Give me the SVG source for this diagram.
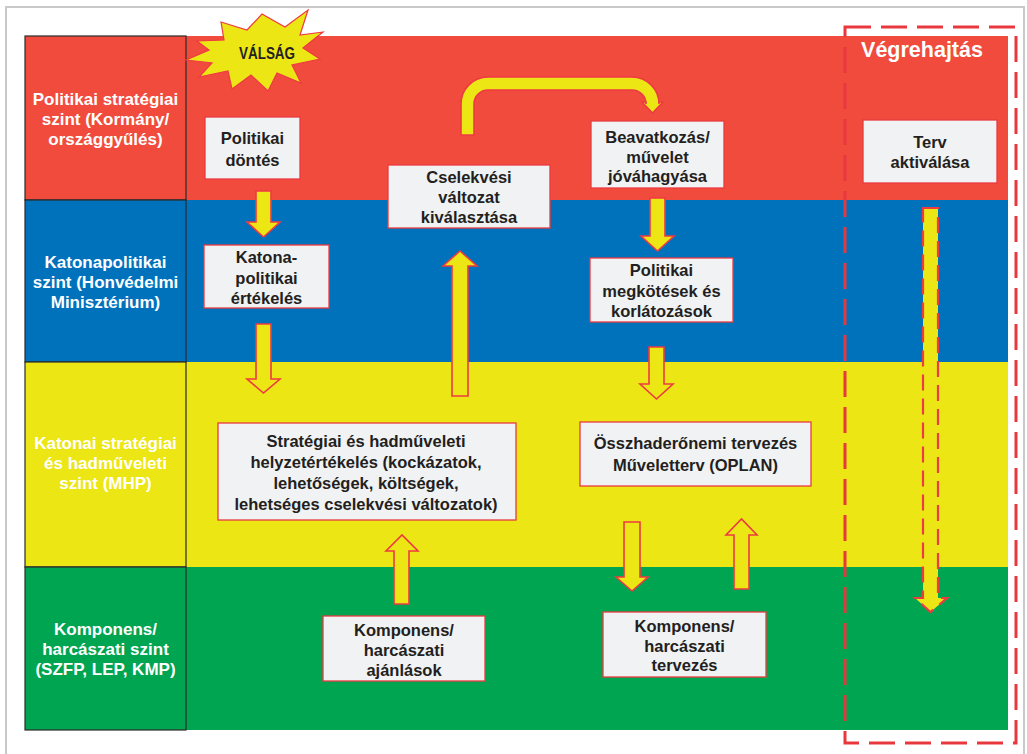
<svg xmlns="http://www.w3.org/2000/svg" width="1027" height="754" viewBox="0 0 1027 754">
  <defs>
    <style>
      .frame { fill: #ffffff; stroke: #c9c9cc; stroke-width: 2; }
      .lvl { stroke: #2b2b2b; stroke-width: 1.2; }
      .red { fill: #f04b3c; }
      .blue { fill: #0072bc; }
      .yellow { fill: #ece614; }
      .green { fill: #00a551; }
      .lbl { font-family: "Liberation Sans", Arial, sans-serif; font-weight: bold; font-size: 17px; fill: #ffffff; text-anchor: middle; }
      .box { fill: #f1f2f4; stroke: #ea3a3f; stroke-width: 1.3; }
      .txt { font-family: "Liberation Sans", Arial, sans-serif; font-weight: bold; font-size: 16.5px; fill: #231f20; text-anchor: middle; }
      .arrow { fill: #ece614; stroke: #ee3a43; stroke-width: 1.6; stroke-linejoin: miter; }
      .dash-arrow { fill: #ece614; stroke: #ee3a43; stroke-width: 2.2; stroke-dasharray: 16 8; }
      .exec { fill: none; stroke: #e8383d; stroke-width: 3; stroke-dasharray: 26 10; }
    </style>
  </defs>

  <!-- page frame -->
  <rect class="frame" x="6" y="7" width="1018" height="760"/>

  <!-- horizontal level bands -->
  <g id="bands">
    <rect class="red" x="186" y="36" width="822" height="164"/>
    <rect class="blue" x="186" y="200" width="822" height="162"/>
    <rect class="yellow" x="186" y="362" width="822" height="205"/>
    <rect class="green" x="186" y="567" width="822" height="163"/>
  </g>

  <!-- level labels on the left -->
  <g id="level-political">
    <rect class="red lvl" x="25" y="36" width="161" height="164"/>
    <text class="lbl" x="105.5" y="105">Politikai stratégiai</text>
    <text class="lbl" x="105.5" y="125">szint (Kormány/</text>
    <text class="lbl" x="105.5" y="145">országgyűlés)</text>
  </g>
  <g id="level-ministry">
    <rect class="blue lvl" x="25" y="200" width="161" height="162"/>
    <text class="lbl" x="105.5" y="268">Katonapolitikai</text>
    <text class="lbl" x="105.5" y="288">szint (Honvédelmi</text>
    <text class="lbl" x="105.5" y="308">Minisztérium)</text>
  </g>
  <g id="level-military">
    <rect class="yellow lvl" x="25" y="362" width="161" height="205"/>
    <text class="lbl" x="105.5" y="449">Katonai stratégiai</text>
    <text class="lbl" x="105.5" y="469">és hadműveleti</text>
    <text class="lbl" x="105.5" y="489">szint (MHP)</text>
  </g>
  <g id="level-component">
    <rect class="green lvl" x="25" y="567" width="161" height="163"/>
    <text class="lbl" x="105.5" y="635">Komponens/</text>
    <text class="lbl" x="105.5" y="655">harcászati  szint</text>
    <text class="lbl" x="105.5" y="675">(SZFP, LEP, KMP)</text>
  </g>

  <!-- crisis starburst -->
  <g id="crisis">
    <polygon points="308,10 300,35 323,32 303,48 320,59 292,65 301,83 277,73 268,91 251,75 232,89 228,71 199,77 212,63 186,60 209,50 197,41 224,40 221,22 247,30 262,14 285,27" fill="#ece614" stroke="#ee3a43" stroke-width="1.2"/>
    <text x="267" y="59" font-family="'Liberation Sans', Arial, sans-serif" font-weight="bold" font-size="16" fill="#231f20" text-anchor="middle" textLength="56" lengthAdjust="spacingAndGlyphs">VÁLSÁG</text>
  </g>

  <!-- execution column -->
  <g id="execution">
    <rect class="exec" x="845" y="27" width="171" height="716"/>
    <text x="922" y="57" font-family="'Liberation Sans', Arial, sans-serif" font-weight="bold" font-size="21.5" fill="#ffffff" text-anchor="middle">Végrehajtás</text>
  </g>

  <!-- connectors -->
  <g id="connectors">
    <!-- Politikai döntés -> Katona-politikai értékelés -->
    <polygon class="arrow" points="256,191 271,191 271,222 280,222 263.5,237 247,222 256,222"/>
    <!-- Katona-politikai értékelés -> helyzetértékelés -->
    <polygon class="arrow" points="256,324 271,324 271,379 280,379 263.5,393 247,379 256,379"/>
    <!-- helyzetértékelés -> Cselekvési változat -->
    <polygon class="arrow" points="452,396 468,396 468,266 477,266 460,251 443,266 452,266"/>
    <!-- Cselekvési változat -> Beavatkozás jóváhagyása (curved) -->
    <path class="arrow" d="M461,135 L461,104 A27,27 0 0 1 488,77 L632,77 A27,27 0 0 1 659,104 L659,102 L663,102 L652.5,113 L642,102 L646,102 L646,104 A14,14 0 0 0 632,90 L488,90 A14,14 0 0 0 474,104 L474,135 Z"/>
    <!-- Beavatkozás jóváhagyása -> Politikai megkötések -->
    <polygon class="arrow" points="650,198 665,198 665,236 674,236 657.5,251 641,236 650,236"/>
    <!-- Politikai megkötések -> Összhaderőnemi tervezés -->
    <polygon class="arrow" points="649,347 664,347 664,384 673,384 656.5,399 640,384 649,384"/>
    <!-- Komponens ajánlások -> helyzetértékelés -->
    <polygon class="arrow" points="394,604 409,604 409,551 418,551 402,535 386,551 394,551"/>
    <!-- Összhaderőnemi tervezés -> Komponens tervezés -->
    <polygon class="arrow" points="624,522 640,522 640,577 648,577 632,591 616,577 624,577"/>
    <!-- Komponens tervezés -> Összhaderőnemi tervezés -->
    <polygon class="arrow" points="734,589 749,589 749,535 757,535 741.5,519 726,535 734,535"/>
    <!-- Terv aktiválása: execution flow -->
    <polygon class="dash-arrow" points="923,208 938,208 938,598 947,598 930.5,612 915,598 923,598"/>
  </g>

  <!-- nodes -->
  <g id="node-politikai-dontes">
    <rect class="box" x="205" y="117" width="95" height="62"/>
    <text class="txt" x="252.5" y="144">Politikai</text>
    <text class="txt" x="252.5" y="166">döntés</text>
  </g>
  <g id="node-cselekvesi-valtozat">
    <rect class="box" x="388" y="165" width="162" height="63"/>
    <text class="txt" x="469" y="183">Cselekvési</text>
    <text class="txt" x="469" y="203">változat</text>
    <text class="txt" x="469" y="223">kiválasztása</text>
  </g>
  <g id="node-beavatkozas">
    <rect class="box" x="591" y="121" width="133" height="67"/>
    <text class="txt" x="657.5" y="143">Beavatkozás/</text>
    <text class="txt" x="657.5" y="163">művelet</text>
    <text class="txt" x="657.5" y="182">jóváhagyása</text>
  </g>
  <g id="node-terv-aktivalasa">
    <rect class="box" x="863" y="120" width="134" height="63"/>
    <text class="txt" x="930" y="148">Terv</text>
    <text class="txt" x="930" y="168">aktiválása</text>
  </g>
  <g id="node-katonapolitikai-ertekeles">
    <rect class="box" x="204" y="245" width="125" height="63"/>
    <text class="txt" x="266.5" y="263">Katona-</text>
    <text class="txt" x="266.5" y="284">politikai</text>
    <text class="txt" x="266.5" y="304">értékelés</text>
  </g>
  <g id="node-politikai-megkotesek">
    <rect class="box" x="590" y="258" width="143" height="64"/>
    <text class="txt" x="661.5" y="276">Politikai</text>
    <text class="txt" x="661.5" y="297">megkötések és</text>
    <text class="txt" x="661.5" y="317">korlátozások</text>
  </g>
  <g id="node-helyzetertekeles">
    <rect class="box" x="218" y="423" width="298" height="97"/>
    <text class="txt" x="366" y="447">Stratégiai és hadműveleti</text>
    <text class="txt" x="366" y="468">helyzetértékelés (kockázatok,</text>
    <text class="txt" x="366" y="489">lehetőségek, költségek,</text>
    <text class="txt" x="366" y="510">lehetséges cselekvési változatok)</text>
  </g>
  <g id="node-osszhaderonemi">
    <rect class="box" x="580" y="422" width="231" height="64"/>
    <text class="txt" x="695.5" y="449">Összhaderőnemi tervezés</text>
    <text class="txt" x="695.5" y="471">Műveletterv (OPLAN)</text>
  </g>
  <g id="node-komponens-ajanlasok">
    <rect class="box" x="323" y="616" width="162" height="65"/>
    <text class="txt" x="404" y="636">Komponens/</text>
    <text class="txt" x="404" y="656">harcászati</text>
    <text class="txt" x="404" y="676">ajánlások</text>
  </g>
  <g id="node-komponens-tervezes">
    <rect class="box" x="603" y="612" width="163" height="65"/>
    <text class="txt" x="684.5" y="632">Komponens/</text>
    <text class="txt" x="684.5" y="652">harcászati</text>
    <text class="txt" x="684.5" y="671">tervezés</text>
  </g>
</svg>
